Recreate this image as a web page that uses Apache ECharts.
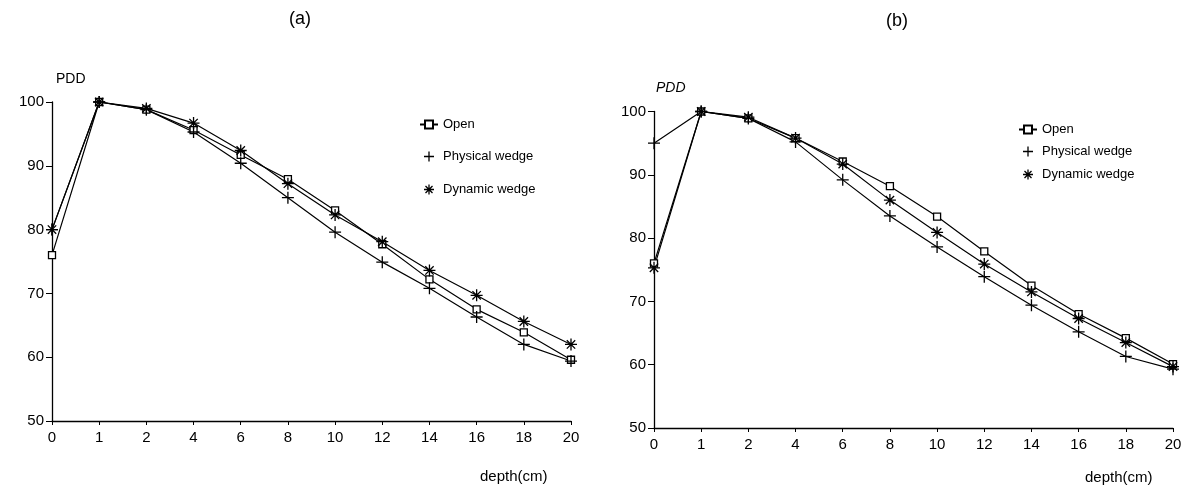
<!DOCTYPE html>
<html><head><meta charset="utf-8">
<script src="https://cdn.jsdelivr.net/npm/echarts@6/dist/echarts.min.js"></script>
<style>html,body{margin:0;padding:0;background:#fff}#c{width:1197px;height:492px}</style>
</head><body><div id="c"></div>
<script>
const depths = ['0','1','2','4','6','8','10','12','14','16','18','20'];
const seriesNames = ['Open','Physical wedge','Dynamic wedge'];
// panel (a)
const openA     = [76.0, 100, 98.8, 95.6, 91.7, 87.9, 83.0, 77.7, 72.2, 67.5, 63.9, 59.6];
const physicalA = [80.0, 100, 98.8, 95.3, 90.4, 85.0, 79.6, 74.9, 70.8, 66.3, 62.0, 59.4];
const dynamicA  = [80.0, 100, 99.0, 96.7, 92.4, 87.2, 82.3, 78.1, 73.6, 69.7, 65.6, 62.0];
// panel (b)
const openB     = [76.0, 100, 98.9, 95.8, 92.1, 88.2, 83.4, 77.9, 72.5, 68.0, 64.2, 60.1];
const physicalB = [95.0, 100, 98.9, 95.2, 89.2, 83.5, 78.6, 73.9, 69.4, 65.2, 61.3, 59.3];
const dynamicB  = [75.3, 100, 99.1, 95.8, 91.7, 86.0, 80.9, 75.9, 71.5, 67.3, 63.5, 59.7];
const yTicks = [50, 60, 70, 80, 90, 100];

const FONT = '"Liberation Sans", Arial, sans-serif';
const PLUS = 'path://M0,-10L0,10M-10,0L10,0';
const STAR = 'path://M0,-10L0,10M-10,0L10,0M-7,-7L7,7M-7,7L7,-7';
const symbols = ['rect', PLUS, STAR];

function mkSeries(name, data, idx, sym, size, fill) {
  return {
    name, type: 'line', data, xAxisIndex: idx, yAxisIndex: idx,
    symbol: sym, symbolSize: size, showSymbol: true,
    lineStyle: { color: '#000', width: 1.2 },
    itemStyle: { color: fill, borderColor: '#000', borderWidth: 1.3 },
    emphasis: { disabled: true }, animation: false, z: 3
  };
}
function xAxisCfg(idx) {
  return {
    type: 'category', gridIndex: idx, data: depths, boundaryGap: false,
    axisLine: { lineStyle: { color: '#000', width: 1.3 } },
    axisTick: { alignWithLabel: true, length: 4, lineStyle: { color: '#000' } },
    axisLabel: { color: '#000', fontSize: 15, fontFamily: FONT, margin: 9 },
    splitLine: { show: false }
  };
}
function yAxisCfg(idx) {
  return {
    type: 'value', gridIndex: idx, min: yTicks[0], max: yTicks[yTicks.length-1], interval: 10,
    axisLine: { show: true, lineStyle: { color: '#000', width: 1.3 } },
    axisTick: { show: true, length: 6, lineStyle: { color: '#000' } },
    axisLabel: { color: '#000', fontSize: 15, fontFamily: FONT, margin: 8 },
    splitLine: { show: false }
  };
}
function legendData() {
  return seriesNames.map((n, i) => i === 0 ? { name: n } : ({
    name: n,
    icon: symbols[i],
    itemStyle: { color: 'none', borderColor: '#000', borderWidth: 1.3 },
    lineStyle: { width: 0, opacity: 0 }
  }));
}
const legendText = { color: '#000', fontSize: 13, fontFamily: FONT };
const chart = echarts.init(document.getElementById('c'), null, { renderer: 'canvas' });
chart.setOption({
  backgroundColor: '#fff',
  animation: false,
  title: [
    { text: '(a)', left: 295, top: 5, textAlign: 'center', textStyle: { fontSize: 18, fontWeight: 'normal', fontFamily: FONT, color: '#000' } },
    { text: '(b)', left: 892, top: 7, textAlign: 'center', textStyle: { fontSize: 18, fontWeight: 'normal', fontFamily: FONT, color: '#000' } }
  ],
  grid: [
    { left: 52, right: 626, top: 102, bottom: 71 },
    { left: 654, right: 24, top: 111.5, bottom: 64 }
  ],
  xAxis: [xAxisCfg(0), xAxisCfg(1)],
  yAxis: [yAxisCfg(0), yAxisCfg(1)],
  legend: [
    { orient: 'vertical', left: 414, top: 113, itemGap: 18, itemWidth: 18, itemHeight: 10,
      data: legendData(), textStyle: legendText, selectedMode: false },
    { orient: 'vertical', left: 1013, top: 118, itemGap: 8, itemWidth: 18, itemHeight: 10,
      data: legendData(), textStyle: legendText, selectedMode: false }
  ],
  graphic: [
    { type: 'text', left: 56, top: 72, style: { text: 'PDD', fontSize: 14, fontFamily: FONT, fill: '#000' } },
    { type: 'text', left: 656, top: 81, style: { text: 'PDD', fontSize: 14, fontStyle: 'italic', fontFamily: FONT, fill: '#000' } },
    { type: 'text', left: 480, top: 469, style: { text: 'depth(cm)', fontSize: 15, fontFamily: FONT, fill: '#000' } },
    { type: 'text', left: 1085, top: 470, style: { text: 'depth(cm)', fontSize: 15, fontFamily: FONT, fill: '#000' } }
  ],
  series: [
    mkSeries('Open', openA, 0, 'rect', 7, '#fff'),
    mkSeries('Physical wedge', physicalA, 0, PLUS, 12, 'none'),
    mkSeries('Dynamic wedge', dynamicA, 0, STAR, 12, 'none'),
    mkSeries('Open', openB, 1, 'rect', 7, '#fff'),
    mkSeries('Physical wedge', physicalB, 1, PLUS, 12, 'none'),
    mkSeries('Dynamic wedge', dynamicB, 1, STAR, 12, 'none')
  ]
});
</script></body></html>
